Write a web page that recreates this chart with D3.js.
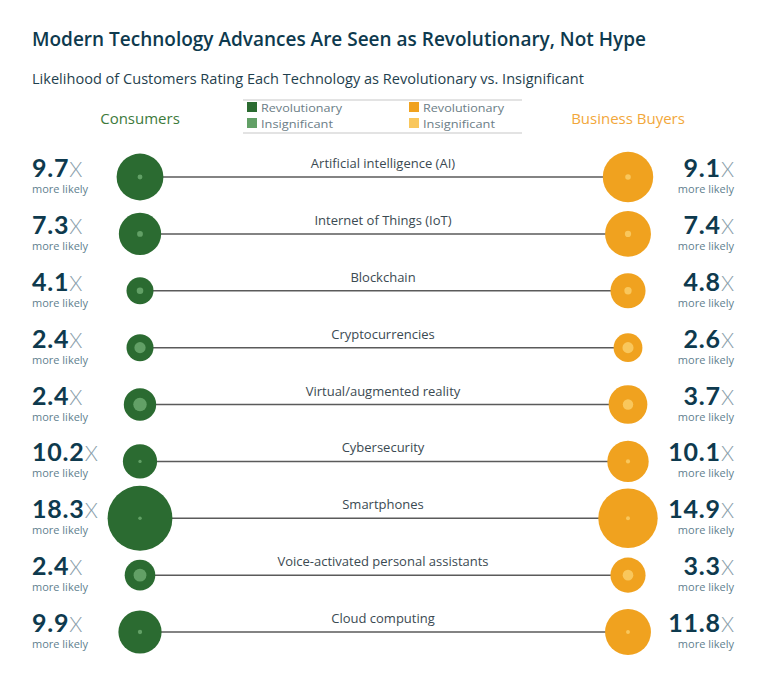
<!DOCTYPE html>
<html>
<head>
<meta charset="utf-8">
<script src="https://cdn.jsdelivr.net/npm/d3@7"></script>
<style>
  body { margin: 0; background: #fff; }
  svg { display: block; }
  text { font-family: "Open Sans", "Noto Sans", sans-serif; }
</style>
</head>
<body>
<svg id="chart" width="770" height="685"></svg>
<script>
const technologies = ["Artificial intelligence (AI)", "Internet of Things (IoT)", "Blockchain", "Cryptocurrencies", "Virtual/augmented reality", "Cybersecurity", "Smartphones", "Voice-activated personal assistants", "Cloud computing"];
// percent rating each technology as revolutionary / insignificant (estimated)
const consumerRevolutionary = [52, 47, 30, 30, 36, 38, 72, 34, 48];
const consumerInsignificant = [5.4, 6.4, 7.3, 12.5, 15, 3.7, 3.9, 14.2, 4.8];
const businessRevolutionary = [56, 51, 39, 32, 43, 46, 66, 39, 51];
const businessInsignificant = [6.2, 6.9, 8.1, 12.3, 11.6, 4.6, 4.4, 11.8, 4.3];
const consumerRatio = ["9.7", "7.3", "4.1", "2.4", "2.4", "10.2", "18.3", "2.4", "9.9"];
const businessRatio = ["9.1", "7.4", "4.8", "2.6", "3.7", "10.1", "14.9", "3.3", "11.8"];

const svg = d3.select("#chart");
const navy = "#0e3a4e";
const greenDark = "#2b6b31", greenLight = "#62a066";
const orangeDark = "#f0a21f", orangeLight = "#f9c75c";

// Title & subtitle
svg.append("text").attr("x", 32).attr("y", 46)
  .attr("font-size", 19.5).attr("font-weight", 600).attr("fill", navy)
  .attr("textLength", 614).attr("lengthAdjust", "spacingAndGlyphs")
  .text("Modern Technology Advances Are Seen as Revolutionary, Not Hype");
svg.append("text").attr("x", 32).attr("y", 84)
  .attr("font-size", 14.5).attr("fill", "#1f3f4e")
  .attr("textLength", 552).attr("lengthAdjust", "spacingAndGlyphs")
  .text("Likelihood of Customers Rating Each Technology as Revolutionary vs. Insignificant");

// Legend
const lg = svg.append("g");
[100, 133].forEach(y => lg.append("line").attr("x1", 243).attr("x2", 522).attr("y1", y).attr("y2", y)
  .attr("stroke", "#c8c8c8").attr("stroke-width", 1.2));
const legendItems = [
  {x: 247, y: 102, c: greenDark, t: "Revolutionary"},
  {x: 247, y: 118, c: greenLight, t: "Insignificant"},
  {x: 409, y: 102, c: orangeDark, t: "Revolutionary"},
  {x: 409, y: 118, c: orangeLight, t: "Insignificant"}
];
legendItems.forEach(d => {
  lg.append("rect").attr("x", d.x).attr("y", d.y).attr("width", 10).attr("height", 10).attr("fill", d.c);
  lg.append("text").attr("x", d.x + 14).attr("y", d.y + 9.5).attr("font-size", 11)
    .attr("textLength", d.t === "Revolutionary" ? 81 : 72).attr("lengthAdjust", "spacingAndGlyphs")
    .attr("fill", "#6b7d86").text(d.t);
});

const xCons = 140, xBus = 628;
svg.append("text").attr("x", xCons).attr("y", 124).attr("text-anchor", "middle")
  .attr("font-size", 15).attr("fill", "#3d7a3b").text("Consumers");
svg.append("text").attr("x", xBus).attr("y", 124).attr("text-anchor", "middle")
  .attr("font-size", 15).attr("fill", "#f2a73a").text("Business Buyers");

const y = d3.scalePoint().domain(technologies).range([177, 632]);
const r = d3.scaleLinear().domain([0, 100]).range([0, 45]);

const rows = svg.append("g").selectAll("g").data(technologies).join("g")
  .attr("transform", d => `translate(0,${y(d)})`);

rows.append("line").attr("x1", xCons).attr("x2", xBus).attr("y1", 0).attr("y2", 0)
  .attr("stroke", "#5a5a5a").attr("stroke-width", 1.5);
rows.append("text").attr("x", 383).attr("y", -9).attr("text-anchor", "middle")
  .attr("font-size", 13).attr("fill", "#3b4a52").text(d => d);

rows.append("circle").attr("cx", xCons).attr("r", (d, i) => r(consumerRevolutionary[i])).attr("fill", greenDark);
rows.append("circle").attr("cx", xCons).attr("r", (d, i) => r(consumerInsignificant[i])).attr("fill", greenLight);
rows.append("circle").attr("cx", xBus).attr("r", (d, i) => r(businessRevolutionary[i])).attr("fill", orangeDark);
rows.append("circle").attr("cx", xBus).attr("r", (d, i) => r(businessInsignificant[i])).attr("fill", orangeLight);

const numFont = "Lato, 'Open Sans', sans-serif";
// Left ratio labels
const lt = rows.append("text").attr("x", 32).attr("y", 0);
lt.append("tspan").attr("font-size", 25).attr("font-weight", 700).attr("fill", navy)
  .attr("letter-spacing", 0.8).attr("font-family", numFont).text((d, i) => consumerRatio[i]);
lt.append("tspan").attr("font-size", 21).attr("font-weight", 300).attr("fill", "#8aa0ab")
  .attr("font-family", numFont).text("X");
rows.append("text").attr("x", 32).attr("y", 16).attr("font-size", 11).attr("fill", "#5f7f8f").text("more likely");

// Right ratio labels
const rt = rows.append("text").attr("x", 734).attr("y", 0).attr("text-anchor", "end");
rt.append("tspan").attr("font-size", 25).attr("font-weight", 700).attr("fill", navy)
  .attr("letter-spacing", 0.8).attr("font-family", numFont).text((d, i) => businessRatio[i]);
rt.append("tspan").attr("font-size", 21).attr("font-weight", 300).attr("fill", "#8aa0ab")
  .attr("font-family", numFont).text("X");
rows.append("text").attr("x", 734).attr("y", 16).attr("text-anchor", "end").attr("font-size", 11).attr("fill", "#5f7f8f").text("more likely");
</script>
</body>
</html>
